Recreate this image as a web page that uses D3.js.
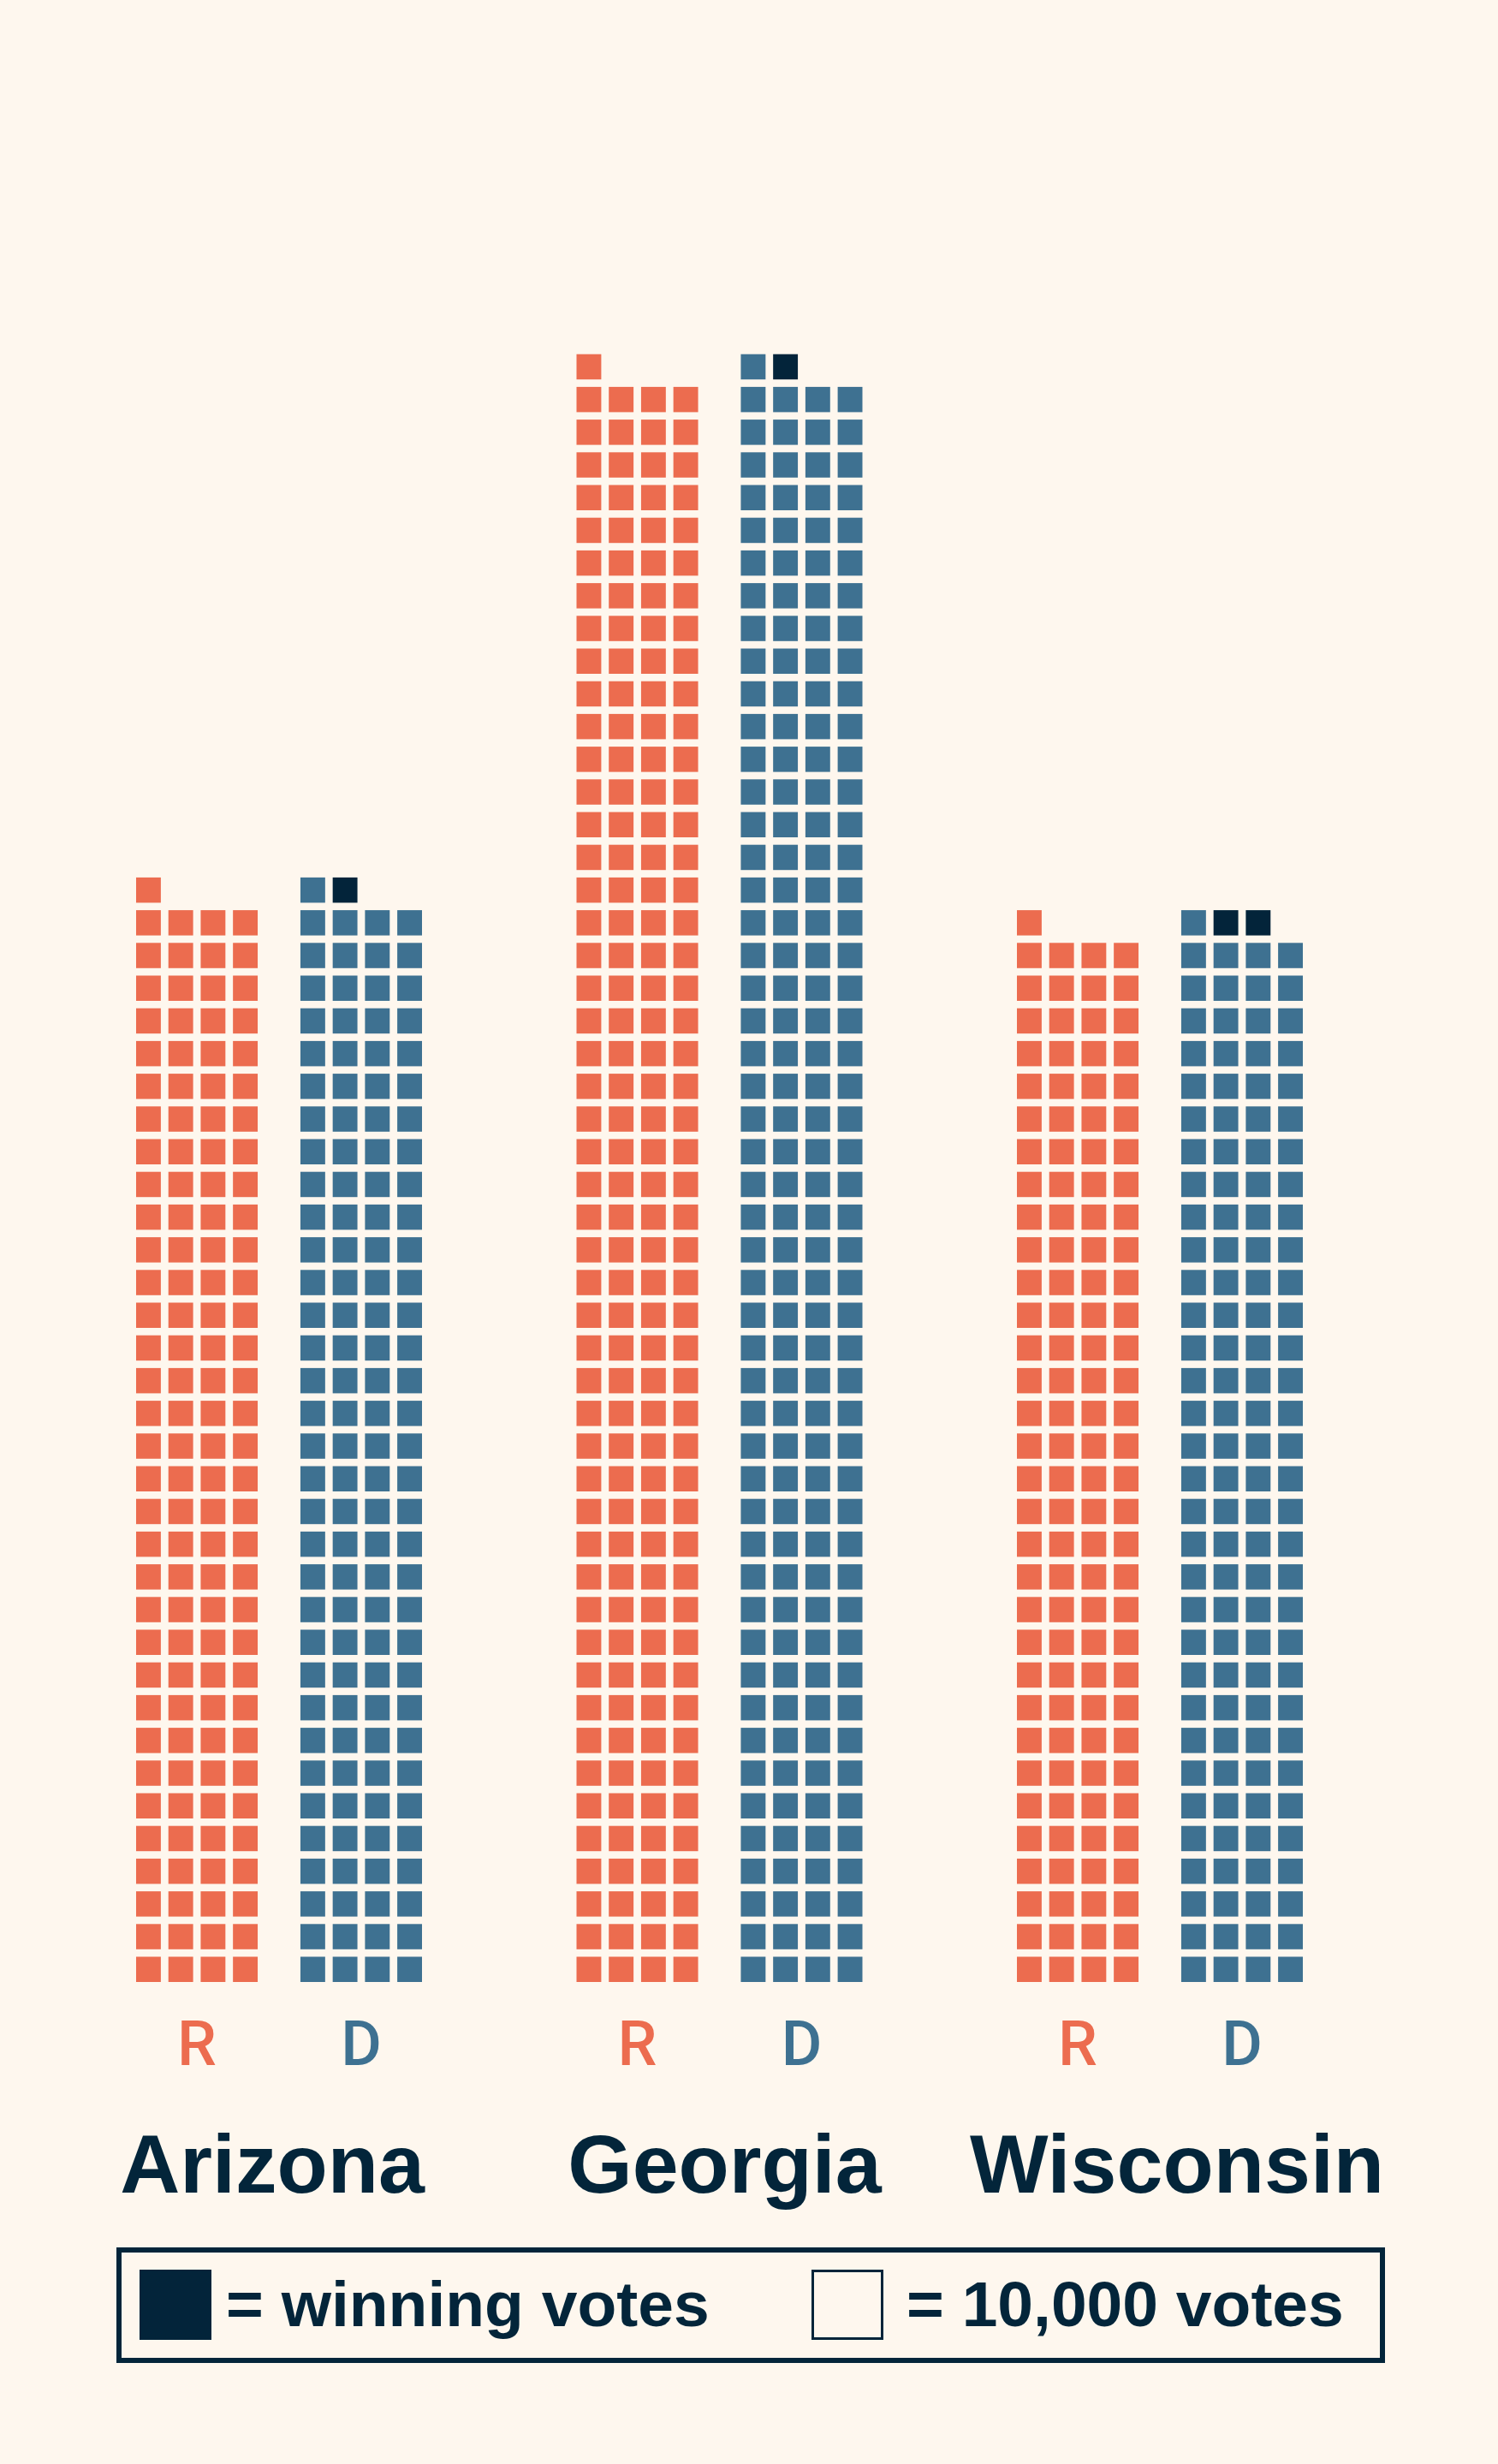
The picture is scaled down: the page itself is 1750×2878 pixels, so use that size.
<!DOCTYPE html>
<html><head><meta charset="utf-8">
<script src="https://cdn.jsdelivr.net/npm/d3@7/dist/d3.min.js"></script>
<style>html,body{margin:0;padding:0;background:#FEF7EE;} svg{display:block;}</style>
</head><body>
<script>
// ---- data (one square per block of votes) ----
const states = ["Arizona", "Georgia", "Wisconsin"];
const parties = ["R", "D"];
const repSquares = [133, 197, 129];
const demSquares = [134, 198, 131];
const legendLabels = ["= winning votes", "= 10,000 votes"];

// ---- layout ----
const W = 1750, H = 2878;
const colors = { R: "#EC6C4F", D: "#3E7191", win: "#03243A", ink: "#03253A", bg: "#FEF7EE" };
const perRow = 4;
const baseY = 2315, rowStep = 38.2, sqH = 29.5;

const svg = d3.select("body").append("svg").attr("width", W).attr("height", H);
svg.append("rect").attr("width", W).attr("height", H).attr("fill", colors.bg);

const groupX = d3.scalePoint().domain(states).range([326, 1355]);
const nameX = d3.scalePoint().domain(states).range([318, 1375]);
const partyX = d3.scaleBand().domain(parties).range([-167, 167]).paddingInner(0.26);
const colX = d3.scaleBand().domain(d3.range(perRow)).range([0, partyX.bandwidth()]).paddingInner(0.234);
const maxRows = Math.ceil(d3.max(repSquares.concat(demSquares)) / perRow);
const rowY = d3.scaleLinear().domain([0, maxRows]).range([baseY, baseY - maxRows * rowStep]);

// build cells
const cells = [];
states.forEach((s, i) => {
  const counts = { R: repSquares[i], D: demSquares[i] };
  const loser = Math.min(counts.R, counts.D);
  parties.forEach(p => {
    const n = counts[p];
    const isWinner = counts[p] > loser;
    for (let k = 0; k < n; k++) {
      cells.push({ state: s, party: p, row: Math.floor(k / perRow), col: k % perRow,
                   win: isWinner && k >= loser });
    }
  });
});

const g = svg.append("g");
g.selectAll("rect.cell").data(cells).join("rect")
  .attr("class", "cell")
  .attr("x", d => groupX(d.state) + partyX(d.party) + colX(d.col))
  .attr("y", d => rowY(d.row) - sqH)
  .attr("width", colX.bandwidth())
  .attr("height", sqH)
  .attr("fill", d => d.win ? colors.win : colors[d.party]);

// party labels
const partyLabels = [];
states.forEach(s => parties.forEach(p => partyLabels.push({ state: s, party: p })));
svg.selectAll("text.party").data(partyLabels).join("text")
  .attr("class", "party")
  .attr("x", d => groupX(d.state) + partyX(d.party) + partyX.bandwidth() / 2)
  .attr("y", 2412)
  .attr("text-anchor", "middle")
  .attr("font-family", "Roboto, 'Liberation Sans', sans-serif")
  .attr("font-weight", 500)
  .attr("font-size", 73)
  .attr("fill", d => colors[d.party])
  .text(d => d.party);

// state names
svg.selectAll("text.state").data(states).join("text")
  .attr("class", "state")
  .attr("x", d => nameX(d))
  .attr("y", 2561)
  .attr("text-anchor", "middle")
  .attr("font-family", "'Liberation Sans', Arial, sans-serif")
  .attr("font-weight", 700)
  .attr("font-size", 97)
  .attr("fill", colors.ink)
  .text(d => d);

// legend
const lg = svg.append("g");
lg.append("rect").attr("x", 139).attr("y", 2628).attr("width", 1476).attr("height", 129)
  .attr("fill", "none").attr("stroke", colors.ink).attr("stroke-width", 6);
lg.append("rect").attr("x", 163).attr("y", 2651).attr("width", 84).attr("height", 82)
  .attr("fill", colors.win);
lg.append("rect").attr("x", 949.5).attr("y", 2652.5).attr("width", 81).attr("height", 79)
  .attr("fill", colors.bg).attr("stroke", colors.ink).attr("stroke-width", 3);
lg.selectAll("text").data(legendLabels).join("text")
  .attr("x", (d, i) => i === 0 ? 264 : 1059)
  .attr("y", 2717)
  .attr("font-family", "'Liberation Sans', Arial, sans-serif")
  .attr("font-weight", 700)
  .attr("font-size", 75)
  .attr("fill", colors.ink)
  .text(d => d);
</script>
</body></html>
